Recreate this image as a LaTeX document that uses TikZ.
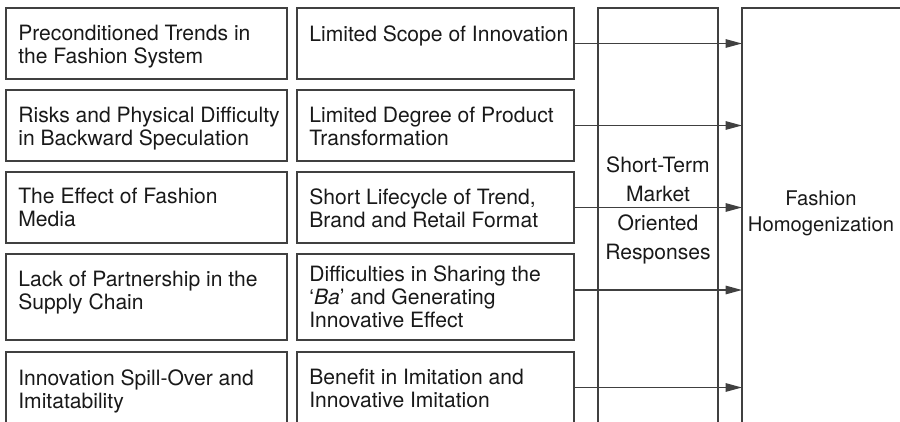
\documentclass[tikz,border=0pt]{standalone}
\usepackage{fontspec}
\setmainfont{TeX Gyre Heros}
\usetikzlibrary{positioning,arrows.meta}

\tikzset{
  cell/.style={draw=black!75, line width=0.85pt, minimum height=1.42cm, inner sep=0, outer sep=0},
  leftcell/.style={cell, minimum width=5.62cm},
  midcell/.style={cell, minimum width=5.54cm},
  tallcell/.style={cell, minimum width=#1, minimum height=9cm, anchor=north west},
  txt/.style={anchor=north west, align=left, inner sep=0, text=black!90,
    font=\fontsize{12}{13.04}\selectfont, execute at begin node=\strut},
  push/.style={draw=black!75, line width=0.85pt, -{Triangle[length=0.33cm,width=0.17cm]}}
}

\begin{document}
\begin{tikzpicture}
  \useasboundingbox (0,0) rectangle (18,-8.42);
  \clip (0,0) rectangle (18,-8.42);

  % causes
  \node[leftcell, anchor=north west] (l1) at (0.12,-0.16) {};
  \node[leftcell, below=0.22cm of l1] (l2) {};
  \node[leftcell, below=0.22cm of l2] (l3) {};
  \node[leftcell, below=0.22cm of l3, minimum height=1.72cm] (l4) {};
  \node[leftcell, below=0.24cm of l4, minimum height=1.8cm] (l5) {};

  % effects
  \node[midcell, right=0.2cm of l1] (m1) {};
  \node[midcell, right=0.2cm of l2] (m2) {};
  \node[midcell, right=0.2cm of l3] (m3) {};
  \node[midcell, right=0.2cm of l4, minimum height=1.72cm] (m4) {};
  \node[midcell, right=0.2cm of l5, minimum height=1.8cm] (m5) {};

  \node[txt] (lt1) at ([shift={(0.24,-0.34)}]l1.north west) {Preconditioned Trends in\\the Fashion System};
  \node[txt] (lt2) at ([shift={(0.24,-0.34)}]l2.north west) {Risks and Physical Difficulty\\in Backward Speculation};
  \node[txt] (lt3) at ([shift={(0.24,-0.32)}]l3.north west) {The Effect of Fashion\\Media};
  \node[txt] (lt4) at ([shift={(0.24,-0.34)}]l4.north west) {Lack of Partnership in the\\Supply Chain};
  \node[txt] (lt5) at ([shift={(0.24,-0.34)}]l5.north west) {Innovation Spill-Over and\\Imitatability};

  \node[txt] (mt1) at ([shift={(0.24,-0.34)}]m1.north west) {Limited Scope of Innovation};
  \node[txt] (mt2) at ([shift={(0.24,-0.34)}]m2.north west) {Limited Degree of Product\\Transformation};
  \node[txt] (mt3) at ([shift={(0.24,-0.32)}]m3.north west) {Short Lifecycle of Trend,\\Brand and Retail Format};
  \node[txt] (mt4) at ([shift={(0.24,-0.23)}]m4.north west) {Difficulties in Sharing the\\‘\textit{Ba}’ and Generating\\Innovative Effect};
  \node[txt] (mt5) at ([shift={(0.24,-0.34)}]m5.north west) {Benefit in Imitation and\\Innovative Imitation};

  % responses and outcome
  \node[tallcell=2.4cm] (resp) at (11.96,-0.16) {};
  \node[tallcell=4cm] (homog) at (14.84,-0.16) {};

  \node[txt, anchor=north, align=center, font=\fontsize{12}{16.4}\selectfont]
    (resptxt) at ([yshift=-2.97cm]resp.north) {Short-Term\\Market\\Oriented\\Responses};
  \node[txt, anchor=north, align=center, font=\fontsize{11.5}{15.3}\selectfont]
    (homtxt) at (16.42,-3.8) {Fashion\\Homogenization};

  \draw[push] (m1.east) -- (m1.east -| homog.west);
  \draw[push] (m2.east) -- (m2.east -| homog.west);
  \draw[push] (m3.east) -- (m3.east -| homog.west);
  \draw[push] ([yshift=0.14cm]m4.east) -- ([yshift=0.14cm]m4.east -| homog.west);
  \draw[push] ([yshift=0.19cm]m5.east) -- ([yshift=0.19cm]m5.east -| homog.west);
\end{tikzpicture}
\end{document}
